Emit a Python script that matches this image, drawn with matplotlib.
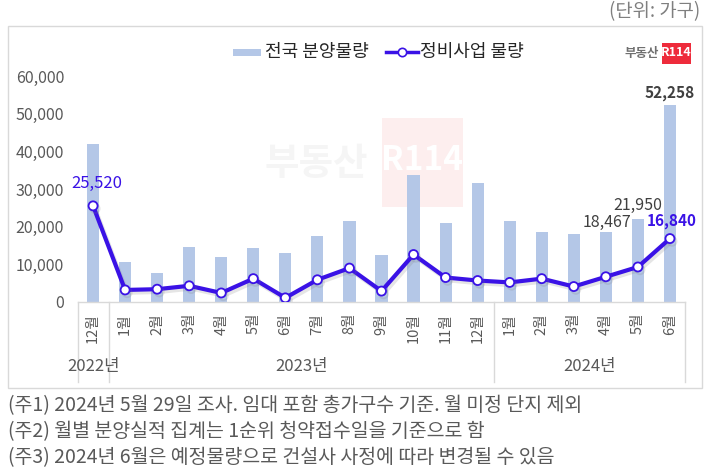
import matplotlib
matplotlib.use("Agg")
import matplotlib.pyplot as plt
import matplotlib.patheffects as pe
from matplotlib.patches import Rectangle
from matplotlib.lines import Line2D
import matplotlib.transforms as mtrans

plt.rcParams['font.family'] = ['Noto Sans CJK KR', 'DejaVu Sans']

months = ['12월', '1월', '2월', '3월', '4월', '5월', '6월', '7월', '8월', '9월', '10월', '11월', '12월',
          '1월', '2월', '3월', '4월', '5월', '6월']
years = ['2022년', '2023년', '2024년']
year_counts = [1, 12, 6]
national = [42000, 10700, 7700, 14700, 12000, 14300, 13000, 17600, 21400, 12400, 33600, 21100, 31700,
            21600, 18500, 18100, 18467, 21950, 52258]
renewal = [25520, 3200, 3400, 4300, 2400, 6200, 1100, 5900, 9000, 2900, 12600, 6500, 5700,
           5200, 6200, 4100, 6700, 9300, 16840]
yticks = [0, 10000, 20000, 30000, 40000, 50000, 60000]

W, H = 710, 472
fig = plt.figure(figsize=(W / 100, H / 100), dpi=100)

def fx(px):
    return px / W

def fy(py):
    return 1 - py / H

BAR = '#B4C7E7'
LINE = '#3A12E6'
GRAY = '#595959'

# outer frame
fig.patches.append(Rectangle((fx(7.5), fy(388)), fx(702) - fx(7.5), fy(26) - fy(388),
                             transform=fig.transFigure, fill=False, edgecolor='#d9d9d9', lw=1.0))

# watermark
fig.text(fx(316), fy(163), '부동산', fontsize=27, fontweight='bold', color='#f5f5f5',
         ha='center', va='center', zorder=0)
fig.patches.append(Rectangle((fx(382), fy(207)), fx(463) - fx(382), fy(118) - fy(207),
                             transform=fig.transFigure, facecolor='#fdeeee', edgecolor='none', zorder=0))
fig.text(fx(422), fy(160), 'R114', fontsize=24, fontweight='bold', color='white',
         ha='center', va='center', zorder=0.5)

ax = fig.add_axes([fx(78), fy(302), fx(685) - fx(78), (302 - 76) / H])
ax.set_zorder(2)
ax.patch.set_alpha(0)
x = list(range(len(months)))
ax.bar(x, national, width=0.38, color=BAR, zorder=2)
ax.plot(x, renewal, color=LINE, lw=3, marker='o', markersize=6.5, markerfacecolor='white',
        markeredgecolor=LINE, markeredgewidth=1.3, zorder=3,
        path_effects=[pe.SimpleLineShadow(offset=(1.5, -2), shadow_color='gray', alpha=0.2),
                      pe.Normal()])

ax.set_xlim(-0.47, 18.47)
ax.set_ylim(0, 60000)
ax.set_yticks(yticks)
ax.set_yticklabels([f'{v:,}' for v in yticks])
ax.tick_params(axis='y', length=0, pad=10, labelsize=11.5, labelcolor=GRAY)
ax.set_xticks(x)
ax.set_xticklabels(months, rotation=90, va='top', ha='center')
ax.tick_params(axis='x', length=0, pad=8, labelsize=10.5, labelcolor=GRAY)
for s in ['top', 'right', 'left']:
    ax.spines[s].set_visible(False)
ax.spines['bottom'].set_color('#d9d9d9')
ax.spines['bottom'].set_linewidth(1.0)

# group separators and year labels
trans = mtrans.blended_transform_factory(ax.transData, ax.transAxes)
ybot = (302 - 382) / 226
start = 0
bounds = [-0.47]
for i, (yr, n) in enumerate(zip(years, year_counts)):
    center = start + (n - 1) / 2
    ax.text(center, (302 - 367) / 226, yr, transform=trans, ha='center', va='center',
            fontsize=12, color=GRAY)
    start += n
    bounds.append(start - 0.5 if i < len(years) - 1 else 18.47)
for b in bounds:
    ax.plot([b, b], [0, ybot], transform=trans, color='#d9d9d9', lw=1.0, clip_on=False)

# data labels
ax.annotate(f'{renewal[0]:,}', (0, renewal[0]), xytext=(3, 10), textcoords='offset points',
            ha='center', va='bottom', fontsize=12, color=LINE)
ax.annotate(f'{national[-1]:,}', (18, national[-1]), xytext=(0, 3), textcoords='offset points',
            ha='center', va='bottom', fontsize=11, fontweight='bold', color='#404040')
ax.annotate(f'{national[-2]:,}', (17, national[-2]), xytext=(0, 4), textcoords='offset points',
            ha='center', va='bottom', fontsize=11.5, color='#404040')
ax.annotate(f'{national[-3]:,}', (16, national[-3]), xytext=(1, 1), textcoords='offset points',
            ha='center', va='bottom', fontsize=11.5, color='#404040')
ax.annotate(f'{renewal[-1]:,}', (18, renewal[-1]), xytext=(1, 7), textcoords='offset points',
            ha='center', va='bottom', fontsize=11, fontweight='bold', color=LINE)

# legend (manual)
fig.patches.append(Rectangle((fx(233), fy(55.5)), fx(261) - fx(233), fy(48.5) - fy(55.5),
                             transform=fig.transFigure, facecolor=BAR, edgecolor='none'))
fig.text(fx(265), fy(52), '전국 분양물량', fontsize=13, color='#262626', ha='left', va='center')
fig.lines.append(Line2D([fx(386), fx(418)], [fy(52), fy(52)], transform=fig.transFigure,
                        color=LINE, lw=2.5, marker=None))
fig.lines.append(Line2D([fx(402)], [fy(52)], transform=fig.transFigure, color=LINE,
                        marker='o', markersize=6, markerfacecolor='white', markeredgecolor=LINE,
                        markeredgewidth=1.2))
fig.text(fx(420), fy(52), '정비사업 물량', fontsize=13, color='#262626', ha='left', va='center')

# logo
fig.text(fx(659), fy(53), '부동산', fontsize=9, fontweight='bold', color='#707070',
         ha='right', va='center')
fig.patches.append(Rectangle((fx(662), fy(63.5)), fx(691) - fx(662), fy(42.5) - fy(63.5),
                             transform=fig.transFigure, facecolor='#EE2B3B', edgecolor='none'))
fig.text(fx(676.5), fy(53), 'R114', fontsize=9, fontweight='bold', color='white',
         ha='center', va='center')

# unit
fig.text(fx(700), fy(12), '(단위: 가구)', fontsize=13.5, color='#7f7f7f', ha='right', va='center')

# footnotes
notes = ['(주1) 2024년 5월 29일 조사. 임대 포함 총가구수 기준. 월 미정 단지 제외',
         '(주2) 월별 분양실적 집계는 1순위 청약접수일을 기준으로 함',
         '(주3) 2024년 6월은 예정물량으로 건설사 사정에 따라 변경될 수 있음']
for i, t in enumerate(notes):
    fig.text(fx(8), fy(406 + i * 26), t, fontsize=14, color=GRAY, ha='left', va='center')

fig.savefig('out.png', dpi=100)
